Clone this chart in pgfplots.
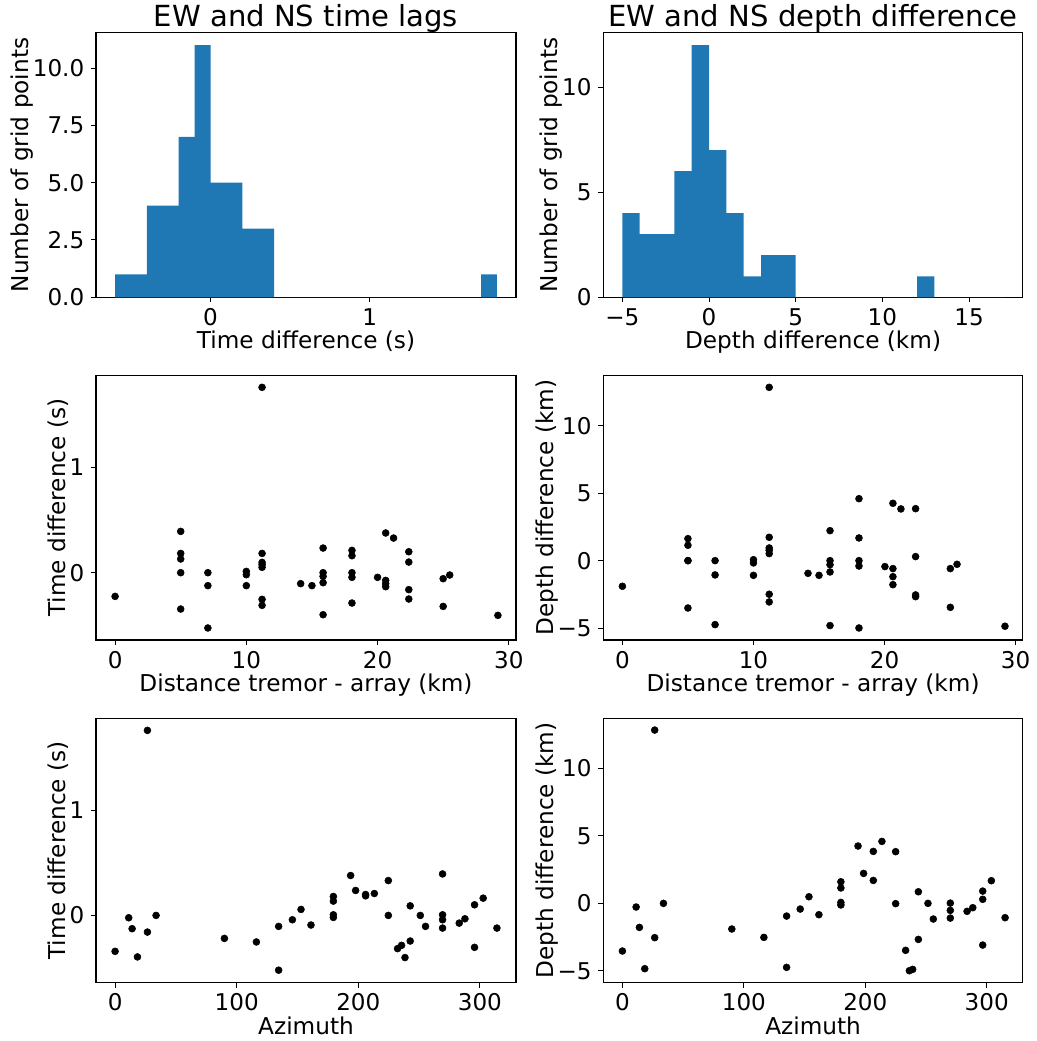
\documentclass[border=0pt]{standalone}
\usepackage{fontspec}
\setmainfont{DejaVu Sans}
\usepackage{pgfplots}
\pgfplotsset{compat=1.18}
\definecolor{C0}{HTML}{1F77B4}
\pgfplotsset{
  mpl/.style={
    scale only axis,
    anchor=south west,
    axis line style={line width=0.8pt},
    tick align=outside, xtick pos=bottom, ytick pos=left,
    major tick length=3.65pt,
    every tick/.style={black, line width=0.8pt},
    tick label style={font=\fontsize{17.3}{20}\selectfont},
    label style={font=\fontsize{17.4}{20}\selectfont},
    every axis title/.style={font=\fontsize{21.8}{26}\selectfont, at={(axis description cs:0.5,1.0237)}, anchor=base},
    xticklabel style={anchor=north, inner sep=0pt, yshift=-4.5pt},
    yticklabel style={anchor=east, inner sep=0pt, xshift=-5pt},
    xlabel style={at={(axis description cs:0.5,-0.194)}, anchor=base},
    scaled ticks=false,
    /pgf/number format/assume math mode=true,
    height=198.5pt,
  },
  scat/.style={only marks, mark=*, mark size=2.6pt, mark options={draw=black, fill=black}},
}
\begin{document}
\begin{tikzpicture}
% ---------- top left ----------
\begin{axis}[mpl, at={(72pt,557.8pt)}, width=315pt,
  title={EW and NS time lags},
  xlabel={Time difference (s)}, ylabel={Number of grid points},
  ylabel style={at={(axis description cs:-0.1613,0.5)}, anchor=base},
  xmin=-0.72, xmax=1.92, ymin=0, ymax=11.55,
  xtick={0,1}, xticklabels={0,1},
  ytick={0,2.5,5,7.5,10}, yticklabels={0.0,2.5,5.0,7.5,10.0}]
\addplot[ybar interval, fill=C0, draw=none] coordinates {
(-0.6,1) (-0.5,1) (-0.4,4) (-0.3,4) (-0.2,7) (-0.1,11) (0.0,5) (0.1,5) (0.2,3) (0.3,3)
(0.4,0) (0.5,0) (0.6,0) (0.7,0) (0.8,0) (0.9,0) (1.0,0) (1.1,0) (1.2,0) (1.3,0)
(1.4,0) (1.5,0) (1.6,0) (1.7,1) (1.8,0)};
\end{axis}
% ---------- top right ----------
\begin{axis}[mpl, at={(452.5pt,557.8pt)}, width=314.6pt,
  title={EW and NS depth difference},
  xlabel={Depth difference (km)}, ylabel={Number of grid points},
  ylabel style={at={(axis description cs:-0.1084,0.5)}, anchor=base},
  xmin=-6.1, xmax=18.1, ymin=0, ymax=12.6,
  xtick={-5,0,5,10,15}, xticklabels={−5,0,5,10,15},
  ytick={0,5,10}, yticklabels={0,5,10}]
\addplot[ybar interval, fill=C0, draw=none] coordinates {
(-5,4) (-4,3) (-3,3) (-2,6) (-1,12) (0,7) (1,4) (2,1) (3,2) (4,2)
(5,0) (6,0) (7,0) (8,0) (9,0) (10,0) (11,0) (12,1) (13,0) (14,0) (15,0) (16,0) (17,0)};
\end{axis}
% ---------- middle left ----------
\begin{axis}[mpl, at={(72pt,300.75pt)}, width=315pt,
  xlabel={Distance tremor - array (km)}, ylabel={Time difference (s)},
  ylabel style={at={(axis description cs:-0.0721,0.5)}, anchor=base},
  xmin=-1.455, xmax=30.55, ymin=-0.639, ymax=1.874,
  xtick={0,10,20,30}, xticklabels={0,10,20,30},
  ytick={0,1}, yticklabels={0,1}]
\addplot[scat] coordinates {
(0,-0.225)
(5.0,0.392)(5.0,0.183)(5.0,0.130)(5.0,0)(5.0,-0.345)
(7.07,0)(7.07,-0.123)(7.07,-0.525)
(10,0.012)(10,-0.019)(10,-0.123)
(11.2,1.76)(11.2,0.183)(11.2,0.098)(11.2,0.076)(11.2,0.051)(11.2,-0.253)(11.2,-0.31)
(14.14,-0.104)
(15.0,-0.123)
(15.85,0.234)(15.85,0)(15.85,-0.035)(15.85,-0.095)(15.85,-0.399)
(18.05,0.212)(18.05,0.161)(18.05,0)(18.05,-0.044)(18.05,-0.288)
(20.0,-0.044)
(20.62,0.377)(20.62,-0.073)(20.62,-0.104)(20.62,-0.133)
(21.22,0.329)
(22.38,0.199)(22.38,0.101)(22.38,-0.161)(22.38,-0.250)
(25.0,-0.057)(25.0,-0.32)
(25.5,-0.022)
(29.17,-0.405)};
\end{axis}
% ---------- middle right ----------
\begin{axis}[mpl, at={(452.5pt,300.75pt)}, width=314.6pt,
  xlabel={Distance tremor - array (km)}, ylabel={Depth difference (km)},
  ylabel style={at={(axis description cs:-0.1192,0.5)}, anchor=base},
  xmin=-1.455, xmax=30.55, ymin=-5.88, ymax=13.73,
  xtick={0,10,20,30}, xticklabels={0,10,20,30},
  ytick={-5,0,5,10}, yticklabels={−5,0,5,10}]
\addplot[scat] coordinates {
(0,-1.90)
(5,1.63)(5,1.14)(5,0)(5,0)(5,-3.51)
(7.07,0)(7.07,-1.06)(7.07,-4.74)
(10,0.07)(10,-0.17)(10,-1.09)
(11.2,12.84)(11.2,1.73)(11.2,0.94)(11.2,0.77)(11.2,0.52)(11.2,-2.49)(11.2,-3.06)
(14.16,-0.94)
(15,-1.09)
(15.84,2.22)(15.84,0)(15.84,-0.30)(15.84,-0.84)(15.84,-4.81)
(18.05,4.59)(18.05,1.68)(18.05,0)(18.05,-0.40)(18.05,-4.99)
(20.03,-0.44)
(20.64,4.25)(20.64,-0.59)(20.64,-1.19)(20.64,-1.78)
(21.25,3.83)
(22.37,3.85)(22.37,0.30)(22.37,-2.54)(22.37,-2.67)
(25.02,-0.59)(25.02,-3.46)
(25.53,-0.27)
(29.19,-4.86)};
\end{axis}
% ---------- bottom left ----------
\begin{axis}[mpl, at={(72pt,43.7pt)}, width=315pt,
  xlabel={Azimuth}, ylabel={Time difference (s)},
  ylabel style={at={(axis description cs:-0.0721,0.5)}, anchor=base},
  xmin=-15.7, xmax=329.7, ymin=-0.639, ymax=1.874,
  xtick={0,100,200,300}, xticklabels={0,100,200,300},
  ytick={0,1}, yticklabels={0,1}]
\addplot[scat] coordinates {
(0,-0.341)(11.2,-0.022)(14.0,-0.126)(18.4,-0.394)(26.6,1.757)(26.6,-0.158)(33.7,0)
(89.9,-0.218)(116.2,-0.252)(134.5,-0.104)(134.5,-0.52)(145.8,-0.041)(152.9,0.057)(161.1,-0.091)
(179.5,0.18)(179.5,0.136)(179.5,0.006)(179.5,-0.019)
(193.7,0.379)(197.8,0.237)(206,0.199)(206,0.186)(213.2,0.208)
(224.7,0.331)(224.7,0)(232.3,-0.315)(235.6,-0.284)(238.4,-0.40)
(242.7,0.091)(242.7,-0.243)(251,0)(255.3,-0.104)
(269.3,0.394)(269.3,0.006)(269.3,-0.041)(269.3,-0.12)
(283,-0.073)(287.7,-0.032)(295.6,0.101)(295.6,-0.303)(302.7,0.164)(314,-0.12)};
\end{axis}
% ---------- bottom right ----------
\begin{axis}[mpl, at={(452.5pt,43.7pt)}, width=314.6pt,
  xlabel={Azimuth}, ylabel={Depth difference (km)},
  ylabel style={at={(axis description cs:-0.1192,0.5)}, anchor=base},
  xmin=-15.7, xmax=329.7, ymin=-5.88, ymax=13.73,
  xtick={0,100,200,300}, xticklabels={0,100,200,300},
  ytick={-5,0,5,10}, yticklabels={−5,0,5,10}]
\addplot[scat] coordinates {
(0,-3.53)(11.3,-0.27)(14.0,-1.78)(18.4,-4.84)(26.6,12.84)(26.6,-2.54)(33.8,0)
(90.1,-1.90)(116.5,-2.52)(135.2,-0.94)(135.2,-4.74)(146.4,-0.42)(153.6,0.49)(161.8,-0.84)
(179.9,1.60)(179.9,1.14)(179.9,0.07)(179.9,-0.12)
(194,4.25)(198.6,2.22)(206.6,3.85)(206.6,1.70)(213.7,4.59)
(225,3.83)(225,-0.02)(233.2,-3.48)(236.3,-4.99)(239,-4.89)
(243.7,0.86)(243.7,-2.67)(251.6,0)(256,-1.16)
(270,0.02)(270,-0.52)(270,-1.09)
(283.8,-0.59)(288.5,-0.32)(296.7,0.91)(296.7,0.30)(296.7,-3.09)(303.8,1.68)(315.1,-1.06)};
\end{axis}
\pgfresetboundingbox
\path (0,0) rectangle (777pt,780.75pt);
\end{tikzpicture}
\end{document}
